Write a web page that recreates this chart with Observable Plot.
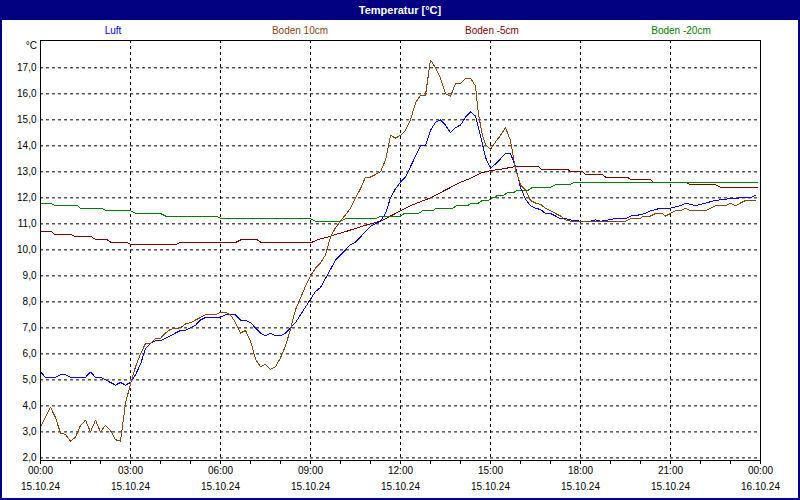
<!DOCTYPE html>
<html><head><meta charset="utf-8">
<script src="https://cdn.jsdelivr.net/npm/d3@7"></script>
<script src="https://cdn.jsdelivr.net/npm/@observablehq/plot@0.6"></script>
<style>body{margin:0;background:#fff} #chart{width:800px;height:500px}</style>
</head><body><div id="chart"></div>
<script>
const title = "Temperatur [°C]";
const unitLabel = "°C";
const seriesNames = ["Luft", "Boden 10cm", "Boden -5cm", "Boden -20cm"];
const seriesColors = ["#0000ff", "#8b4513", "#800000", "#008000"];

// minutes since 00:00 on 15.10.24, values in °C
const luftMin = [0,10,30,40,50,60,90,100,110,120,130,140,150,160,170,180,190,200,210,220,230,240,250,260,270,280,290,300,310,320,330,360,370,390,400,410,420,430,440,450,460,470,480,490,500,510,520,530,540,550,560,570,580,590,600,610,620,630,640,650,660,670,680,690,700,710,720,730,740,750,760,770,780,790,800,810,820,830,840,850,860,870,880,890,900,910,920,930,940,950,960,970,980,990,1000,1010,1020,1030,1040,1050,1060,1080,1100,1110,1120,1150,1170,1180,1200,1210,1220,1240,1260,1280,1290,1310,1330,1350,1370,1400,1420,1430];
const luftVal = [5.3,5.1,5.1,5.2,5.2,5.1,5.1,5.3,5.1,5.1,5.0,4.9,4.8,4.9,4.8,4.9,5.2,5.6,6.2,6.4,6.5,6.5,6.6,6.7,6.8,6.9,6.9,7.0,7.1,7.3,7.4,7.4,7.5,7.5,7.3,7.3,7.2,7.0,6.8,6.7,6.8,6.7,6.7,6.8,7.0,7.2,7.5,7.8,8.1,8.4,8.55,8.9,9.25,9.6,9.8,10.0,10.2,10.3,10.5,10.7,10.9,11.0,11.1,11.4,12.0,12.35,12.6,12.8,13.2,13.6,14.0,14.0,14.6,14.9,15.0,14.8,14.5,14.7,14.8,15.1,15.3,15.15,14.4,13.55,13.15,13.3,13.5,13.7,13.7,13.2,12.4,11.95,11.7,11.6,11.55,11.4,11.4,11.3,11.2,11.2,11.15,11.1,11.1,11.15,11.1,11.2,11.2,11.3,11.35,11.4,11.5,11.6,11.6,11.7,11.8,11.7,11.8,11.9,11.95,12.0,12.0,12.1];

const boden10Min = [0,20,30,40,50,60,70,80,90,100,110,120,130,140,150,160,170,180,190,200,210,220,230,240,250,260,280,290,300,310,320,330,350,360,370,380,390,400,410,420,430,440,450,460,470,480,490,500,510,520,530,540,550,560,570,580,590,600,610,620,630,640,650,660,670,680,690,700,710,720,730,740,750,760,770,780,790,800,810,820,830,840,850,860,870,876,884,890,900,910,920,930,940,950,960,970,980,990,1000,1010,1020,1030,1040,1050,1060,1170,1180,1200,1204,1220,1230,1244,1250,1260,1270,1280,1290,1300,1330,1340,1350,1370,1380,1390,1400,1410,1430];
const boden10Val = [3.2,3.95,3.55,2.95,2.9,2.64,2.8,3.25,3.45,3.0,3.45,3.0,3.25,3.05,2.7,2.64,4.1,4.85,5.5,6.0,6.4,6.4,6.6,6.6,6.8,6.95,7.0,7.15,7.2,7.3,7.4,7.5,7.5,7.6,7.6,7.5,7.2,6.8,6.9,6.5,5.8,5.5,5.6,5.4,5.5,5.85,6.3,6.95,7.7,8.15,8.6,9.0,9.3,9.5,9.8,10.5,10.85,11.1,11.35,11.6,12.0,12.35,12.8,12.8,12.9,13.0,13.45,14.4,14.3,14.4,14.6,15.0,15.65,15.95,15.95,17.3,17.0,16.6,16.0,15.9,16.4,16.4,16.6,16.6,16.3,15.2,14.4,14.05,13.85,14.15,14.4,14.7,14.2,13.1,12.5,12.3,11.9,11.8,11.75,11.6,11.5,11.4,11.3,11.15,11.1,11.1,11.2,11.2,11.3,11.3,11.4,11.4,11.3,11.4,11.5,11.5,11.6,11.5,11.5,11.6,11.7,11.7,11.8,11.7,11.8,11.9,11.9];

const boden5Min = [0,22,28,60,70,102,110,132,140,172,182,270,280,392,402,432,440,544,556,576,592,610,626,642,660,680,700,720,740,760,780,800,820,840,860,880,900,920,950,996,1002,1054,1060,1084,1090,1124,1130,1174,1180,1220,1226,1290,1300,1350,1360,1434];
const boden5Val = [10.7,10.7,10.6,10.6,10.5,10.5,10.4,10.4,10.3,10.3,10.2,10.2,10.3,10.3,10.4,10.4,10.3,10.3,10.4,10.5,10.6,10.7,10.8,10.9,11.0,11.1,11.3,11.5,11.7,11.85,12.0,12.2,12.4,12.6,12.75,12.95,13.05,13.1,13.2,13.2,13.1,13.1,13.0,13.0,12.9,12.9,12.8,12.8,12.7,12.7,12.6,12.6,12.5,12.5,12.4,12.4];

const boden20Min = [0,20,30,74,80,122,132,180,190,240,250,352,362,540,550,600,610,670,680,720,728,756,764,784,792,824,832,854,862,876,884,896,904,908,914,926,934,946,954,976,984,1020,1030,1056,1070,1434];
const boden20Val = [11.8,11.8,11.7,11.7,11.6,11.6,11.5,11.5,11.4,11.4,11.3,11.3,11.2,11.2,11.1,11.1,11.2,11.2,11.3,11.3,11.4,11.4,11.5,11.5,11.6,11.6,11.7,11.7,11.8,11.8,11.9,11.9,12.0,12.0,12.1,12.1,12.2,12.2,12.3,12.3,12.4,12.4,12.5,12.5,12.6,12.6];

const yTicks = [2,3,4,5,6,7,8,9,10,11,12,13,14,15,16,17];
const yTickLabels = ["2,0","3,0","4,0","5,0","6,0","7,0","8,0","9,0","10,0","11,0","12,0","13,0","14,0","15,0","16,0","17,0"];
const xTicks = [0,180,360,540,720,900,1080,1260,1440];
const xTimeLabels = ["00:00","03:00","06:00","09:00","12:00","15:00","18:00","21:00","00:00"];
const xDateLabels = ["15.10.24","15.10.24","15.10.24","15.10.24","15.10.24","15.10.24","15.10.24","15.10.24","16.10.24"];
const xGrid = [180,360,540,720,900,1080,1260];
const hourTicks = [0,60,120,180,240,300,360,420,480,540,600,660,720,780,840,900,960,1020,1080,1140,1200,1260,1320,1380,1440];

const mk = (mins, vals, s) => mins.map((t, i) => ({t, v: vals[i], s}));
const luft = mk(luftMin, luftVal, seriesNames[0]);
const b10 = mk(boden10Min, boden10Val, seriesNames[1]);
const b5 = mk(boden5Min, boden5Val, seriesNames[2]);
const b20 = mk(boden20Min, boden20Val, seriesNames[3]);

const font = "'Liberation Sans', Arial, sans-serif";
const lineOpts = {x: "t", y: "v", stroke: "s", strokeWidth: 1, shapeRendering: "crispEdges"};
const chart = Plot.plot({
  width: 800, height: 500,
  marginTop: 40, marginBottom: 40, marginLeft: 40, marginRight: 40,
  style: {fontFamily: font, fontSize: "10px", background: "#ffffff", color: "#000"},
  x: {domain: [0, 1440], axis: null},
  y: {domain: [1.9, 18.05], axis: null},
  color: {domain: seriesNames, range: seriesColors},
  marks: [
    Plot.ruleY(yTicks, {stroke: "#000", strokeWidth: 1, strokeDasharray: "3,3", strokeOpacity: 1}),
    Plot.ruleX(xGrid, {stroke: "#000", strokeWidth: 1, strokeDasharray: "3,3", strokeOpacity: 1}),
    Plot.axisX({ticks: hourTicks, tickSize: 4, tickFormat: () => "", label: null, stroke: "#000", strokeOpacity: 1}),
    Plot.line(b5, lineOpts),
    Plot.line(b20, lineOpts),
    Plot.line(luft, lineOpts),
    Plot.line(b10, lineOpts),
    Plot.frame({stroke: "#000", strokeWidth: 1}),
    Plot.text(yTicks, {y: d => d, frameAnchor: "left", dx: -4, textAnchor: "end", text: (d, i) => yTickLabels[i], fill: "#000"}),
    Plot.text(xTicks, {x: d => d, frameAnchor: "bottom", dy: 13, text: (d, i) => xTimeLabels[i], fill: "#000"}),
    Plot.text(xTicks, {x: d => d, frameAnchor: "bottom", dy: 29, text: (d, i) => xDateLabels[i], fill: "#000"})
  ]
});
document.getElementById("chart").appendChild(chart);

const svg = d3.select(chart);
svg.append("rect").attr("x", 0).attr("y", 0).attr("width", 800).attr("height", 20).attr("fill", "#000080");
svg.append("text").attr("x", 400).attr("y", 10).attr("dy", "0.35em").attr("text-anchor", "middle")
  .attr("fill", "#ffffff").attr("font-weight", "bold").attr("font-size", 11).attr("font-family", font).text(title);
const legendX = [113, 300, 492, 681];
seriesNames.forEach((n, i) => {
  svg.append("text").attr("x", legendX[i]).attr("y", 30).attr("dy", "0.35em").attr("text-anchor", "middle")
    .attr("fill", seriesColors[i]).attr("font-size", 10).attr("font-family", font).text(n);
});
svg.append("text").attr("x", 37).attr("y", 45).attr("dy", "0.35em").attr("text-anchor", "end")
  .attr("fill", "#000").attr("font-size", 10).attr("font-family", font).text(unitLabel);
svg.append("rect").attr("x", 1).attr("y", 1).attr("width", 798).attr("height", 498)
  .attr("fill", "none").attr("stroke", "#000080").attr("stroke-width", 2);
</script></body></html>
